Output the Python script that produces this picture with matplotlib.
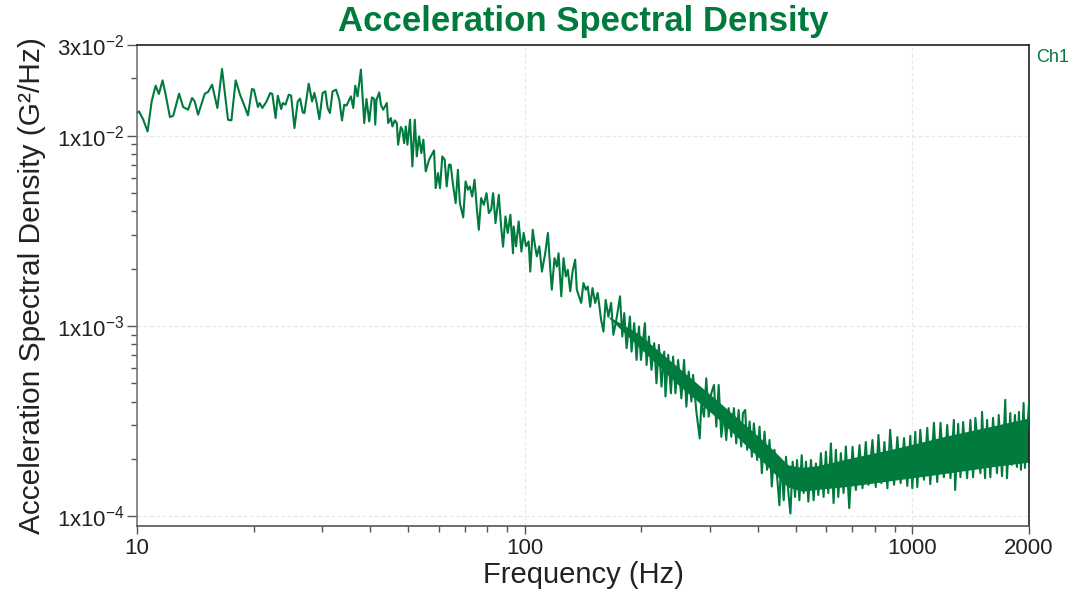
import numpy as np
import matplotlib
matplotlib.use("Agg")
import matplotlib.pyplot as plt
from matplotlib.ticker import FixedLocator, FixedFormatter, NullFormatter

GREEN = "#007A3D"

# ---- data (frequency in Hz) ----
# 10 - 93 Hz, PSD in units of 1e-2 G^2/Hz
freq_a = [10.00, 10.12, 10.38, 10.65, 10.91, 11.17, 11.39, 11.64, 11.87, 12.16,
          12.40, 12.84, 13.15, 13.54, 13.87, 14.09, 14.37, 14.96, 15.25, 15.62,
          16.12, 16.57, 17.17, 17.52, 17.97, 18.44, 18.81, 19.33, 19.79, 20.03,
          20.51, 20.72, 21.05, 21.55, 22.07, 22.34, 22.78, 23.08, 23.55, 23.77,
          24.15, 24.63, 24.98, 25.48, 25.98, 26.35, 26.76, 27.03, 27.73, 28.29,
          28.68, 29.07, 29.54, 30.12, 30.61, 31.03, 31.46, 31.95, 32.61, 33.25,
          33.79, 34.25, 34.71, 35.28, 35.64, 36.13, 36.56, 37.06, 37.81, 38.56,
          39.08, 39.72, 40.36, 40.92, 41.17, 41.48, 42.16, 42.58, 43.15, 43.40,
          44.11, 44.44, 45.16, 45.59, 46.24, 46.80, 47.16, 47.92, 48.38, 48.87,
          49.36, 49.83, 50.63, 51.33, 52.07, 52.69, 53.41, 54.14, 54.79, 55.57,
          56.67, 58.38, 58.96, 59.77, 60.48, 61.31, 62.19, 62.93, 63.79, 64.42,
          65.43, 66.37, 67.27, 68.07, 69.42, 70.41, 71.38, 72.22, 73.21, 74.26,
          75.14, 76.16, 77.22, 78.47, 79.73, 80.84, 81.95, 82.92, 84.10, 85.77,
          86.94, 87.97, 89.23, 90.44, 91.89, 93.31]
psd_a_e2 = [1.321, 1.342, 1.214, 1.053, 1.515, 1.833, 1.658, 1.955, 1.624, 1.254,
            1.274, 1.664, 1.416, 1.370, 1.579, 1.515, 1.290, 1.664, 1.698, 1.855,
            1.399, 2.244, 1.214, 1.204, 1.955, 1.644, 1.486, 1.279, 1.761, 1.746,
            1.416, 1.486, 1.399, 1.504, 1.678, 1.658, 1.239, 1.624, 1.382, 1.486,
            1.456, 1.644, 1.624, 1.098, 1.515, 1.566, 1.326, 1.316, 1.878, 1.515,
            1.678, 1.486, 1.224, 1.678, 1.711, 1.399, 1.316, 1.711, 1.746, 1.547,
            1.204, 1.456, 1.439, 1.547, 1.610, 1.399, 1.833, 1.610, 2.225, 1.166,
            1.560, 1.189, 1.591, 1.560, 1.143, 1.547, 1.690, 1.456, 1.370, 1.399,
            1.486, 1.166, 1.239, 1.119, 1.204, 1.166, 0.897, 1.111, 1.075, 0.915,
            1.119, 0.897, 1.214, 0.689, 1.214, 0.778, 0.992, 0.811, 0.953, 0.649,
            0.748, 0.837, 0.530, 0.636, 0.530, 0.778, 0.748, 0.541, 0.704, 0.704,
            0.541, 0.442, 0.662, 0.442, 0.372, 0.575, 0.520, 0.541, 0.479, 0.587,
            0.433, 0.320, 0.470, 0.433, 0.499, 0.392, 0.408, 0.499, 0.347, 0.489,
            0.333, 0.261, 0.376, 0.308, 0.384, 0.241]

# 94 - 674 Hz, PSD in units of 1e-4 G^2/Hz
freq_b = [93.7, 95.0, 96.5, 98.1, 99.4, 100.8, 102.4, 103.4, 104.9, 106.1,
          107.5, 109.1, 110.8, 113.0, 114.8, 116.4, 117.5, 119.4, 121.1, 122.3,
          124.3, 126.0, 127.7, 129.2, 131.1, 132.9, 135.0, 136.3, 139.9, 141.8,
          143.8, 145.5, 147.6, 149.6, 152.0, 154.3,
          157.5, 159.7, 161.8, 164.4, 167.1, 169.4, 172.7, 176.2, 178.6, 180.7,
          183.2, 186.9, 188.7, 191.7, 194.4, 197.2, 199.5, 204.3, 206.3, 209.2,
          212.4, 215.9, 218.8, 222.0, 225.4, 229.1, 230.8, 234.6, 238.4, 241.5,
          244.9, 248.8, 253.7, 257.8, 261.3, 265.0, 269.2, 271.9, 277.3, 282.9,
          285.6, 290.2, 294.1, 298.4, 303.0, 307.9, 312.2, 316.6, 321.6, 326.7,
          331.1, 335.9, 341.2, 346.6, 351.4, 356.4, 362.0, 365.6, 370.6, 375.0,
          380.4, 385.6, 390.2, 397.9, 403.6, 409.1, 415.7, 422.1, 428.2, 434.0,
          441.0, 447.9, 454.2, 458.5, 465.9, 472.3, 479.1, 484.8, 491.4, 498.3,
          504.2, 511.3, 518.4, 524.5, 531.7, 539.3, 547.7, 556.5, 564.1, 572.2,
          581.1, 590.4, 598.5, 607.1, 616.6, 626.5, 635.0, 644.2, 654.2, 664.7,
          673.8]
psd_b_e4 = [33.3, 26.2, 35.4, 24.6, 30.8, 26.2, 27.8, 19.3, 32.0, 27.2,
            23.2, 26.2, 19.3, 24.1, 30.8, 20.1, 15.5, 22.7, 20.5, 24.1,
            14.3, 22.7, 18.2, 19.7, 15.2, 19.3, 22.3, 15.5, 13.2, 16.8,
            15.5, 16.1, 12.6, 15.8, 13.2, 14.9,
            10.75, 9.33, 13.7, 11.19, 13.2, 8.97, 10.98, 14.3, 8.79, 11.67,
            7.63, 11.19, 7.32, 10.33, 6.62, 9.92, 6.62, 10.33, 6.23, 8.79,
            5.87, 8.11, 4.99, 7.94, 4.79, 7.32, 4.25, 7.04, 4.42, 6.89,
            4.42, 6.62, 4.16, 6.62, 3.76, 5.75, 4.00, 5.52, 3.54, 2.56,
            3.92, 3.33, 5.30, 3.33, 4.42, 4.89, 2.95, 4.89, 2.61, 3.47,
            2.51, 3.69, 2.61, 3.69, 2.41, 3.61, 2.32, 3.47, 3.61, 2.23,
            3.14, 2.05, 3.07, 1.97, 2.95, 1.68, 2.78, 1.75, 2.51, 1.43,
            2.23, 1.61, 1.14, 1.97, 1.21, 2.05, 1.32, 1.03, 1.93, 1.26,
            1.97, 1.21, 2.09, 1.32, 1.93, 1.19, 1.97, 1.21, 1.89, 1.29,
            2.14, 1.26, 2.18, 1.32, 2.41, 1.17, 2.23, 1.26, 2.14, 1.32,
            2.32]

# 688 - 2000 Hz, PSD in units of 1e-4 G^2/Hz
freq_c = [687.6, 701.2, 715.1, 730.9, 744.0, 758.6, 770.8, 789.3, 804.9, 817.8,
          832.4, 847.3, 862.5, 876.5, 897.5, 915.0, 933.1, 952.2, 970.8, 988.3,
          1000.0, 1017.9, 1030.1, 1048.6, 1071.7, 1092.9, 1112.4, 1137.0, 1159.5, 1182.4,
          1206.3, 1230.3, 1254.6, 1280.0, 1289.8, 1313.1, 1331.1, 1352.4, 1384.8, 1412.2,
          1434.9, 1454.5, 1498.4, 1513.3, 1540.7, 1558.9, 1589.7, 1615.2, 1654.0, 1670.8,
          1703.8, 1737.1, 1754.8, 1789.5, 1807.7, 1840.0, 1861.8, 1884.2, 1906.5, 1937.1,
          1952.3, 2000.0]
psd_c_e4 = [1.10, 2.31, 1.37, 2.36, 1.40, 2.45, 1.46, 2.51, 1.42, 2.67,
            1.49, 2.45, 1.40, 2.84, 1.46, 2.60, 1.49, 2.57, 1.44, 2.64,
            1.40, 2.77, 1.42, 2.84, 1.55, 2.91, 1.47, 3.09, 1.51, 3.09,
            1.60, 3.01, 1.58, 3.20, 1.37, 3.05, 1.60, 3.12, 1.58, 3.20,
            1.60, 3.28, 1.68, 3.53, 1.58, 3.20, 1.60, 3.28, 1.68, 3.40,
            1.62, 4.08, 1.58, 3.48, 1.86, 3.40, 1.81, 3.53, 1.75, 3.93,
            1.79, 3.93]

# solid core of the dense band (1e-4 G^2/Hz)
core_freq = [165.0, 196.4, 248.8, 315.2, 399.5, 440.0, 477.2, 520.0, 570.0, 680.8,
             915.0, 1230.0, 1654.0, 2000.0]
core_high_e4 = [11.2, 9.10, 6.05, 4.02, 2.64, 2.20, 1.86, 1.80, 1.84, 2.00,
                2.28, 2.64, 3.01, 3.28]
core_low_e4 = [11.0, 7.80, 4.90, 3.25, 2.05, 1.68, 1.42, 1.35, 1.38, 1.43,
               1.55, 1.68, 1.83, 1.92]

freq = np.array(freq_a + freq_b + freq_c)
psd = np.concatenate([np.array(psd_a_e2) * 1e-2,
                      np.array(psd_b_e4) * 1e-4,
                      np.array(psd_c_e4) * 1e-4])

x_major = [10, 100, 1000, 2000]
x_major_labels = ["10", "100", "1000", "2000"]
y_major = [1e-4, 1e-3, 1e-2, 3e-2]
y_major_labels = [r"1x10$^{-4}$", r"1x10$^{-3}$", r"1x10$^{-2}$", r"3x10$^{-2}$"]

# ---- style ----
plt.rcParams["font.family"] = ["Liberation Sans", "DejaVu Sans"]
plt.rcParams["mathtext.fontset"] = "custom"
plt.rcParams["mathtext.rm"] = "Liberation Sans"
plt.rcParams["mathtext.it"] = "Liberation Sans:italic"
plt.rcParams["mathtext.bf"] = "Liberation Sans:bold"

fig = plt.figure(figsize=(10.73, 5.96), dpi=100)
ax = fig.add_axes([137 / 1073, 70 / 596, 892 / 1073, 481 / 596])

ax.fill_between(core_freq, np.array(core_low_e4) * 1e-4, np.array(core_high_e4) * 1e-4,
                color=GREEN, lw=0, zorder=2)
ax.plot(freq, psd, color=GREEN, lw=1.5, zorder=3)

ax.set_xscale("log")
ax.set_yscale("log")
ax.set_xlim(10, 2000)
ax.set_ylim(8.86e-5, 3e-2)

ax.xaxis.set_major_locator(FixedLocator(x_major))
ax.xaxis.set_major_formatter(FixedFormatter(x_major_labels))
ax.xaxis.set_minor_locator(FixedLocator([20, 30, 40, 50, 60, 70, 80, 90,
                                         200, 300, 400, 500, 600, 700, 800, 900]))
ax.xaxis.set_minor_formatter(NullFormatter())
ax.yaxis.set_major_locator(FixedLocator(y_major))
ax.yaxis.set_major_formatter(FixedFormatter(y_major_labels))
ax.yaxis.set_minor_locator(FixedLocator(
    [k * 1e-4 for k in range(2, 10)] + [k * 1e-3 for k in range(2, 10)] + [2e-2]))
ax.yaxis.set_minor_formatter(NullFormatter())

ax.tick_params(axis="both", which="major", labelsize=16, colors="#555555",
               labelcolor="#222222", direction="out")
ax.tick_params(axis="x", which="major", length=6, width=1, pad=3)
ax.tick_params(axis="x", which="minor", length=4, width=1, colors="#555555", direction="out")
ax.tick_params(axis="y", which="major", length=7, width=1, pad=2)
ax.tick_params(axis="y", which="minor", length=4, width=1, colors="#555555", direction="out")

for side in ("top", "right"):
    ax.spines[side].set_color("#222222")
    ax.spines[side].set_linewidth(1.2)
ax.spines["left"].set_color("#777777")
ax.spines["bottom"].set_color("#555555")
ax.spines["left"].set_linewidth(1.2)
ax.spines["bottom"].set_linewidth(1.2)

ax.grid(True, which="major", color="#e8e8e8", linestyle=(0, (3, 2)), linewidth=0.9, zorder=0)
ax.set_axisbelow(True)

ax.set_xlabel("Frequency (Hz)", fontsize=21, color="#222222", labelpad=1)
ax.set_ylabel("Acceleration Spectral Density (G²/Hz)", fontsize=21.5, color="#222222", labelpad=8)

fig.text(583 / 1073, 1 - 31 / 596, "Acceleration Spectral Density", ha="center", va="baseline",
         fontsize=25, fontweight="bold", color=GREEN)
fig.text(1036 / 1073, 1 - 58 / 596, "Ch1", ha="left", va="center", fontsize=13, color=GREEN)

fig.savefig("out.png", dpi=100)
